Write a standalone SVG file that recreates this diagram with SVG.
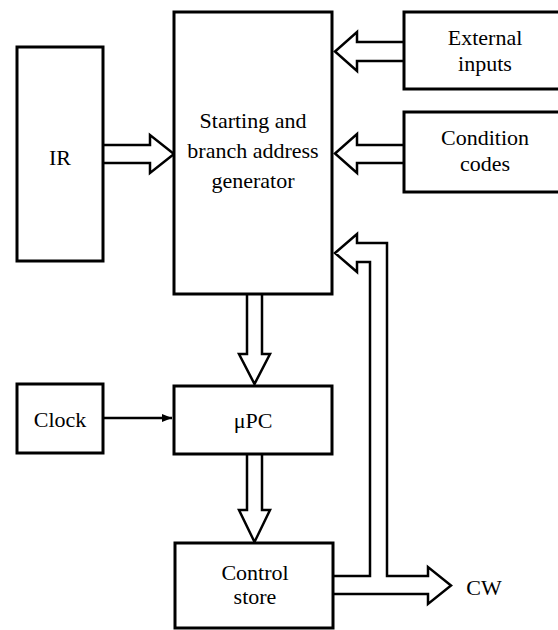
<svg xmlns="http://www.w3.org/2000/svg" width="558" height="630" viewBox="0 0 558 630">
<style>
.box{fill:#fff;stroke:#000;stroke-width:3}
.t{font-size:22px;fill:#000;text-anchor:middle}
.ba{fill:#fff;stroke:#000;stroke-width:2.5;stroke-linejoin:miter}
.ln{fill:none;stroke:#000;stroke-width:2.5}
</style>
<defs>
<marker id="ah" markerWidth="10" markerHeight="8" refX="10" refY="4" orient="auto" markerUnits="userSpaceOnUse" viewBox="0 0 10 8">
<path d="M0,0 L10,4 L0,8 Z" fill="#000"/>
</marker>
</defs>
<rect width="558" height="630" fill="#fff"/>
<g id="connectors">
<path class="ba" d="M103,145 H150 V135 L174,154 L150,173 V163 H103"/>
<path class="ba" d="M404,42 H357 V32 L335,51.5 L357,71 V61 H404"/>
<path class="ba" d="M404,145 H357 V134 L335,153.5 L357,173 V163 H404"/>
<path class="ba" d="M247,294 V354 H239 L254.5,384 L270,354 H262 V294"/>
<path class="ba" d="M247,454 V510 H239 L254.5,542 L270,510 H262 V454"/>
<path class="ba" d="M333,576 H370 V262 H357 V272 L335,253 L357,234 V243 H387 V576 H428 V567 L451,585.5 L428,604 V594 H333"/>
<line class="ln" x1="103" y1="418" x2="172" y2="418" stroke-width="2" marker-end="url(#ah)"/>
</g>
<g font-family="Liberation Serif, DejaVu Serif, serif">
<g id="ir">
<rect class="box" x="17" y="47" width="86" height="214"/>
<text class="t" x="60" y="165">IR</text>
</g>
<g id="generator">
<rect class="box" x="174" y="12" width="158" height="282"/>
<text class="t" x="253" y="128">Starting and</text>
<text class="t" x="253" y="158">branch address</text>
<text class="t" x="253" y="188">generator</text>
</g>
<g id="external">
<rect class="box" x="404" y="12" width="160" height="77"/>
<text class="t" x="485" y="45">External</text>
<text class="t" x="485" y="71">inputs</text>
</g>
<g id="condition">
<rect class="box" x="404" y="112" width="160" height="80"/>
<text class="t" x="485" y="145">Condition</text>
<text class="t" x="485" y="171">codes</text>
</g>
<g id="clock">
<rect class="box" x="17" y="384" width="86" height="69"/>
<text class="t" x="60" y="427">Clock</text>
</g>
<g id="upc">
<rect class="box" x="174" y="386" width="158" height="68"/>
<text class="t" x="253" y="428">μPC</text>
</g>
<g id="control">
<rect class="box" x="175" y="543" width="158" height="85"/>
<text class="t" x="255" y="580">Control</text>
<text class="t" x="255" y="604">store</text>
</g>
<g id="cw">
<text class="t" x="484" y="595" font-size="23">CW</text>
</g>
</g>
</svg>
